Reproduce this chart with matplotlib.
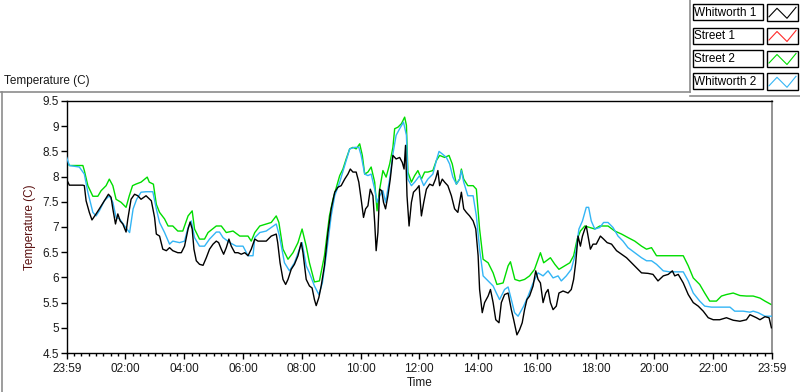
import matplotlib
matplotlib.use("Agg")
import matplotlib.pyplot as plt
from matplotlib.patches import Rectangle
from matplotlib.lines import Line2D
import numpy as np

# ---------------- data (hours since 23:59, temperature C) ----------------
w1_hours = [0.00, 0.09, 0.55, 0.60, 0.66, 0.77, 0.86, 1.00, 1.11, 1.28, 1.42, 1.51, 1.57, 1.66, 1.74, 1.82,
            1.91, 2.02, 2.08, 2.19, 2.31, 2.42, 2.53, 2.70, 2.88, 2.99, 3.05, 3.16, 3.27, 3.39, 3.50, 3.61,
            3.78, 3.90, 4.01, 4.13, 4.20, 4.27, 4.33, 4.41, 4.52, 4.64, 4.75, 4.86, 4.98, 5.09, 5.17, 5.26,
            5.34, 5.43, 5.52, 5.60, 5.72, 5.83, 5.94, 6.06, 6.17, 6.28, 6.40, 6.51,
            6.79, 6.96, 7.13, 7.18, 7.26, 7.36, 7.45, 7.53, 7.64, 7.75, 7.87, 7.98, 8.04, 8.15, 8.26, 8.35,
            8.43, 8.49, 8.58, 8.66, 8.77, 8.89, 9.00, 9.12, 9.23, 9.34, 9.46, 9.57, 9.65, 9.74, 9.85, 9.94,
            10.02, 10.10, 10.17, 10.25, 10.33, 10.42, 10.48, 10.53, 10.59, 10.65, 10.72, 10.78, 10.85, 10.93,
            11.01, 11.10, 11.21, 11.33, 11.42, 11.48, 11.53, 11.58, 11.65, 11.73, 11.80, 11.90, 11.99, 12.07,
            12.15, 12.24, 12.35, 12.46, 12.55, 12.63, 12.69, 12.78, 12.86, 12.97, 13.09, 13.20, 13.31, 13.43,
            13.51, 13.60, 13.71, 13.83, 13.92, 14.00, 14.05, 14.14, 14.22, 14.34, 14.42, 14.51, 14.60, 14.71,
            14.79, 14.90, 15.02, 15.13, 15.21, 15.32,
            15.41, 15.50, 15.58, 15.66, 15.75, 15.87, 15.96, 16.04, 16.12, 16.21, 16.30, 16.38, 16.46, 16.55,
            16.66, 16.75, 16.89, 17.06, 17.17, 17.25, 17.32, 17.40, 17.48, 17.55, 17.63, 17.68, 17.74, 17.82,
            17.91, 18.02, 18.16, 18.27, 18.39, 18.54, 18.71, 18.88, 19.05, 19.22, 19.39, 19.56, 19.78, 19.95,
            20.12, 20.30, 20.47, 20.61, 20.69, 20.81, 20.98, 21.15, 21.32, 21.49, 21.66, 21.83, 22.00, 22.22,
            22.45, 22.68, 22.91, 23.13, 23.25, 23.36, 23.47, 23.59, 23.76, 23.90, 23.98]
w1_temps = [7.94, 7.83, 7.83, 7.82, 7.52, 7.29, 7.14, 7.26, 7.36, 7.52, 7.65, 7.59, 7.36, 7.06, 7.26, 7.12,
            7.06, 6.90, 7.16, 7.55, 7.65, 7.62, 7.55, 7.62, 7.52, 7.19, 6.86, 6.82, 6.56, 6.53, 6.59, 6.53,
            6.49, 6.49, 6.62, 6.96, 7.10, 6.96, 6.56, 6.33, 6.26, 6.24, 6.39, 6.56, 6.66, 6.72, 6.69, 6.56,
            6.46, 6.59, 6.76, 6.62, 6.49, 6.49, 6.46, 6.49, 6.43, 6.56, 6.76, 6.72,
            6.72, 6.82, 6.86, 6.69, 6.29, 5.96, 5.86, 5.96, 6.16, 6.26, 6.43, 6.69, 6.49, 5.96, 5.83, 5.79,
            5.56, 5.44, 5.60, 5.83, 6.23, 6.89, 7.36, 7.69, 7.79, 7.82, 7.95, 8.05, 8.15, 8.09, 8.09, 7.89,
            7.55, 7.19, 7.36, 7.42, 7.75, 7.62, 7.09, 6.53, 6.89, 7.75, 7.72, 7.49, 7.36, 7.62,
            7.95, 8.42, 8.35, 8.38, 8.28, 8.15, 8.62, 7.62, 7.02, 7.49, 7.69, 7.75, 7.82, 7.22,
            7.49, 7.75, 7.85, 7.82, 7.95, 8.12, 7.82, 7.95, 7.89, 7.82, 7.62, 7.36, 7.29, 7.69,
            7.36, 7.29, 7.22, 7.12, 6.96, 6.43, 5.76, 5.30, 5.50, 5.63, 5.76, 5.50, 5.16, 5.10,
            5.50, 5.66, 5.69, 5.36, 5.16, 4.86,
            4.96, 5.10, 5.36, 5.56, 5.63, 5.83, 6.13, 5.96, 5.89, 5.50, 5.69, 5.76, 5.50, 5.36,
            5.43, 5.69, 5.73, 5.69, 5.76, 5.96, 6.29, 6.82, 6.62, 6.82, 6.96, 7.02, 6.82, 6.56,
            6.66, 6.66, 6.82, 6.76, 6.69, 6.66, 6.53, 6.46, 6.39, 6.29, 6.19, 6.09, 6.08, 6.06,
            5.93, 6.03, 6.06, 6.13, 6.03, 6.06, 5.89, 5.66, 5.50, 5.43, 5.33, 5.20, 5.16, 5.16,
            5.20, 5.15, 5.13, 5.16, 5.26, 5.23, 5.20, 5.16, 5.22, 5.20, 5.00]

s2_hours = [0.00, 0.09, 0.55, 0.60, 0.72, 0.89, 1.06, 1.17, 1.34, 1.45, 1.57, 1.68, 1.85, 2.02, 2.13, 2.24,
            2.35, 2.53, 2.74, 2.81, 2.95, 3.05, 3.16, 3.33, 3.45, 3.61, 3.78, 3.95, 4.13, 4.27, 4.35, 4.52,
            4.69, 4.81, 5.09, 5.26, 5.43, 5.66, 5.89, 6.17, 6.28, 6.40, 6.57,
            6.96, 7.13, 7.22, 7.36, 7.53, 7.70, 7.87, 8.01, 8.15, 8.26, 8.43, 8.60, 8.77, 8.94, 9.06, 9.19,
            9.29, 9.40, 9.51, 9.63, 9.74, 9.85, 9.97, 10.06, 10.14, 10.25, 10.36, 10.48, 10.56, 10.65, 10.76,
            10.87, 10.99, 11.10, 11.16, 11.27, 11.39, 11.50, 11.56, 11.61, 11.73, 11.84, 11.95, 12.07, 12.18,
            12.29, 12.46, 12.58, 12.69, 12.86, 13.01, 13.12, 13.26, 13.37, 13.43, 13.51, 13.65, 13.83, 13.94,
            14.05, 14.17, 14.34, 14.51, 14.64, 14.85, 15.02, 15.10, 15.25, 15.41,
            15.58, 15.75, 15.92, 16.12, 16.23, 16.32, 16.46, 16.61, 16.75, 16.95, 17.12, 17.25, 17.37, 17.48,
            17.63, 17.80, 17.97, 18.14, 18.42, 18.65, 18.88, 19.10, 19.33, 19.56, 19.73, 19.90, 20.07, 20.41,
            20.75, 20.98, 21.15, 21.32, 21.54, 21.71, 21.88, 22.11, 22.28, 22.45, 22.68, 22.91, 23.13, 23.36,
            23.59, 23.76, 23.98]
s2_temps = [8.32, 8.22, 8.22, 8.12, 7.82, 7.61, 7.61, 7.72, 7.82, 7.95, 7.82, 7.55, 7.49, 7.39, 7.62, 7.82,
            7.85, 7.89, 7.99, 7.89, 7.85, 7.45, 7.29, 7.16, 7.02, 7.02, 6.92, 6.92, 7.22, 7.32, 6.96, 6.76,
            6.76, 6.89, 7.02, 7.02, 6.89, 6.92, 6.82, 6.82, 6.72, 6.89, 7.02,
            7.09, 7.22, 7.09, 6.56, 6.36, 6.49, 6.69, 6.96, 6.62, 6.29, 5.91, 5.93, 6.43, 7.22, 7.55, 7.82,
            8.02, 8.15, 8.35, 8.55, 8.58, 8.55, 8.65, 8.42, 8.05, 8.09, 8.19, 7.89, 7.32, 7.75, 8.12,
            7.99, 8.25, 8.58, 8.95, 8.98, 9.05, 9.18, 9.02, 8.09, 7.89, 8.02, 8.12, 7.95, 8.09,
            8.09, 8.12, 8.32, 8.42, 8.38, 8.42, 8.25, 7.85, 7.95, 8.15, 7.95, 7.82, 7.82, 7.75,
            6.96, 6.36, 6.29, 6.09, 5.86, 5.89, 6.23, 6.31, 5.96, 5.93,
            5.96, 6.03, 6.16, 6.49, 6.29, 6.33, 6.39, 6.26, 6.16, 6.23, 6.29, 6.43, 6.76, 6.92,
            7.02, 6.99, 6.96, 7.02, 7.02, 6.92, 6.86, 6.79, 6.72, 6.62, 6.56, 6.59, 6.43, 6.43,
            6.43, 6.43, 6.23, 5.99, 5.86, 5.69, 5.53, 5.53, 5.63, 5.66, 5.69, 5.64, 5.63, 5.63,
            5.59, 5.53, 5.46]

w2_hours = [0.00, 0.09, 0.43, 0.60, 0.72, 0.89, 1.00, 1.11, 1.28, 1.45, 1.57, 1.68, 1.80, 1.97, 2.14, 2.26,
            2.38, 2.53, 2.70, 2.93, 3.05, 3.16, 3.33, 3.50, 3.61, 3.84, 4.01, 4.13, 4.24, 4.35, 4.52, 4.69,
            4.86, 5.09, 5.20, 5.32, 5.55, 5.77, 6.00, 6.17, 6.34, 6.40, 6.57,
            6.79, 7.13, 7.24, 7.41, 7.58, 7.75, 7.92, 8.01, 8.15, 8.26, 8.43, 8.58, 8.70, 8.83, 9.00, 9.12,
            9.29, 9.46, 9.63, 9.80, 9.94, 10.02, 10.14, 10.25, 10.36, 10.48, 10.56, 10.65, 10.76, 10.85,
            10.99, 11.10, 11.21, 11.33, 11.46, 11.56, 11.61, 11.73, 11.84, 12.01, 12.15, 12.29, 12.46, 12.58,
            12.67, 12.78, 12.92, 13.03, 13.14, 13.26, 13.37, 13.43, 13.51, 13.65, 13.83, 13.94, 14.05, 14.17,
            14.34, 14.51, 14.62, 14.73, 14.90, 15.02, 15.13, 15.24, 15.36,
            15.55, 15.70, 15.87, 16.04, 16.21, 16.38, 16.55, 16.72, 16.83, 17.00, 17.17, 17.32, 17.43, 17.55,
            17.63, 17.68, 17.76, 17.85, 17.97, 18.14, 18.27, 18.42, 18.59, 18.76, 18.93, 19.10, 19.33, 19.56,
            19.73, 19.90, 20.07, 20.30, 20.52, 20.75, 20.98, 21.15, 21.32, 21.54, 21.71, 21.94, 22.22, 22.57,
            22.73, 23.02, 23.25, 23.36, 23.53, 23.76, 23.98]
w2_temps = [8.38, 8.22, 8.19, 8.05, 7.69, 7.29, 7.22, 7.32, 7.52, 7.62, 7.49, 7.19, 7.16, 7.02, 6.89, 7.36,
            7.55, 7.69, 7.70, 7.70, 7.36, 7.09, 6.89, 6.66, 6.72, 6.69, 6.72, 6.99, 7.12, 6.79, 6.62, 6.62,
            6.76, 6.90, 6.90, 6.79, 6.69, 6.62, 6.62, 6.43, 6.43, 6.79, 6.89,
            6.92, 7.06, 6.82, 6.29, 6.13, 6.29, 6.56, 6.69, 6.23, 6.09, 5.83, 5.66, 5.89, 6.43, 7.22, 7.62,
            7.89, 8.22, 8.55, 8.58, 8.58, 8.42, 8.05, 8.02, 8.05, 7.75, 7.49, 7.62, 7.72, 7.49,
            7.95, 8.45, 8.82, 8.95, 9.08, 8.82, 7.95, 7.82, 7.89, 8.02, 7.82, 7.95, 8.05, 8.32,
            8.50, 8.45, 8.38, 8.25, 7.99, 7.85, 7.95, 8.12, 7.89, 7.62, 7.62, 7.22, 6.56, 6.03,
            5.93, 5.83, 5.69, 5.56, 5.76, 5.81, 5.56, 5.30, 5.23,
            5.43, 5.63, 5.89, 6.09, 6.03, 6.13, 5.99, 6.03, 5.93, 6.03, 6.16, 6.49, 6.96, 7.12,
            7.29, 7.39, 7.39, 7.12, 6.96, 6.99, 7.09, 7.09, 6.99, 6.82, 6.72, 6.59, 6.49, 6.39,
            6.33, 6.33, 6.26, 6.13, 6.11, 6.11, 6.11, 5.93, 5.69, 5.53, 5.43, 5.41, 5.41, 5.41,
            5.33, 5.33, 5.31, 5.33, 5.30, 5.23, 5.23]

series_names = ["Whitworth 1", "Street 1", "Street 2", "Whitworth 2"]
series_colors = ["#000000", "#ff2a2a", "#00dd00", "#33b5f5"]

x_tick_hours = [0, 2, 4, 6, 8, 10, 12, 14, 16, 18, 20, 22, 24]
x_tick_labels = ["23:59", "02:00", "04:00", "06:00", "08:00", "10:00", "12:00",
                 "14:00", "16:00", "18:00", "20:00", "22:00", "23:59"]
y_ticks = [4.5, 5, 5.5, 6, 6.5, 7, 7.5, 8, 8.5, 9, 9.5]
y_tick_labels = ["4.5", "5", "5.5", "6", "6.5", "7", "7.5", "8", "8.5", "9", "9.5"]

# ---------------- figure ----------------
plt.rcParams['font.family'] = ['Liberation Sans', 'DejaVu Sans']
FS = 8.5
W, H = 800, 392
fig = plt.figure(figsize=(W / 100, H / 100), dpi=100)
fig.patch.set_facecolor("white")

def fx(px):
    return px / W

def fy(py):
    return 1 - py / H

ax = fig.add_axes([fx(66.7), fy(353), fx(772) - fx(66.7), fy(101) - fy(353)])
ax.set_facecolor("white")

ax.plot(s2_hours, s2_temps, color=series_colors[2], lw=1.0, zorder=2)
ax.plot(w2_hours, w2_temps, color=series_colors[3], lw=1.0, zorder=3)
ax.plot(w1_hours, w1_temps, color=series_colors[0], lw=1.0, zorder=4)

ax.set_xlim(0, 24)
ax.set_ylim(4.5, 9.5)
ax.set_xticks(x_tick_hours)
ax.set_xticklabels(x_tick_labels)
ax.set_xticks(np.arange(0, 24.01, 0.25), minor=True)
ax.set_yticks(y_ticks)
ax.set_yticklabels(y_tick_labels)

tick_color = "#1a1a1a"
ax.tick_params(axis="x", which="major", direction="out", length=4.5, width=1, color="black",
               labelsize=FS, labelcolor=tick_color, pad=2.5)
ax.tick_params(axis="x", which="minor", direction="out", length=2.5, width=1, color="black")
ax.tick_params(axis="y", which="major", direction="out", length=4, width=1, color="black",
               labelsize=FS, labelcolor=tick_color, pad=1.5)

for side in ["left", "top", "bottom"]:
    ax.spines[side].set_color("black")
    ax.spines[side].set_linewidth(1)
ax.spines["right"].set_color("#808080")
ax.spines["right"].set_linewidth(1.2)

ax.set_xlabel("Time", fontsize=FS, color=tick_color, labelpad=1.5)
ax.set_ylabel("Temperature (C)", fontsize=FS, color="#5a1010", labelpad=5)

# panel frame lines
fig.add_artist(Line2D([fx(0), fx(689.5)], [fy(92), fy(92)], color="#8c8c8c", lw=1.2))
fig.add_artist(Line2D([fx(1.5), fx(1.5)], [fy(92), fy(392)], color="#8c8c8c", lw=1.2))
fig.add_artist(Line2D([fx(689.5), fx(689.5)], [fy(0), fy(92)], color="#8c8c8c", lw=1.2))
fig.add_artist(Line2D([fx(689.5), fx(800)], [fy(95.5), fy(95.5)], color="#8c8c8c", lw=1.2))

fig.text(fx(4), fy(81), "Temperature (C)", fontsize=FS, color=tick_color, ha="left", va="center")

# legend (LabVIEW style)
row_tops = [4.3, 27.5, 50.5, 73.3]
for name, col, top in zip(series_names, series_colors, row_tops):
    h = 16
    fig.add_artist(Rectangle((fx(692.7), fy(top + h)), fx(762.7) - fx(692.7), fy(top) - fy(top + h),
                             facecolor="white", edgecolor="black", lw=1))
    fig.add_artist(Rectangle((fx(767), fy(top + h + 0.7)), fx(797.5) - fx(767), fy(top) - fy(top + h + 0.7),
                             facecolor="white", edgecolor="black", lw=1))
    fig.text(fx(694.5), fy(top + h / 2 + 0.3), name, fontsize=FS, color="black", ha="left", va="center")
    zx = [769, 777, 787, 796]
    zy = [top + 12.5, top + 4, top + 14, top + 3]
    fig.add_artist(Line2D([fx(v) for v in zx], [fy(v) for v in zy], color=col, lw=0.8))

fig.savefig("out.png", dpi=100, facecolor="white")
